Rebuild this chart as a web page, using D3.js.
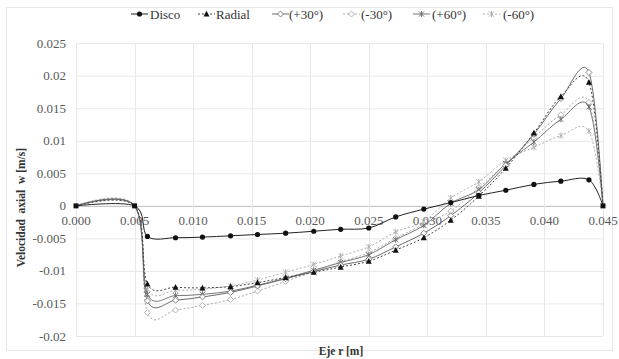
<!DOCTYPE html>
<html><head><meta charset="utf-8">
<script src="https://cdn.jsdelivr.net/npm/d3@7"></script>
<style>body{margin:0;background:#fff}svg{display:block}text{font-family:"Liberation Serif","DejaVu Serif",serif}</style>
</head><body>
<script>
const rValues = [0, 0.005, 0.0061, 0.0085, 0.0108, 0.0132, 0.0155, 0.0179, 0.0203, 0.0226, 0.0250, 0.0273, 0.0297, 0.0320, 0.0344, 0.0367, 0.0391, 0.0414, 0.0438, 0.045];
const disco  = [0, 0, -0.0047, -0.0049, -0.0048, -0.0046, -0.0044, -0.0042, -0.0039, -0.0036, -0.0034, -0.0017, -0.0005, 0.0005, 0.0016, 0.0024, 0.0033, 0.0038, 0.0040, 0];
const radial = [0, 0, -0.0120, -0.0125, -0.0126, -0.0124, -0.0118, -0.0110, -0.0102, -0.0094, -0.0085, -0.0068, -0.0049, -0.0022, 0.0015, 0.0058, 0.0112, 0.0168, 0.0190, 0];
const p30    = [0, 0, -0.0146, -0.0145, -0.0140, -0.0133, -0.0123, -0.0112, -0.0101, -0.0091, -0.0082, -0.0063, -0.0042, -0.0015, 0.0020, 0.0062, 0.0110, 0.0165, 0.0205, 0];
const m30    = [0, 0, -0.0164, -0.0160, -0.0153, -0.0144, -0.0131, -0.0116, -0.0101, -0.0086, -0.0072, -0.0050, -0.0028, -0.0008, 0.0028, 0.0065, 0.0105, 0.0140, 0.0159, 0];
const p60    = [0, 0, -0.0136, -0.0138, -0.0136, -0.0131, -0.0122, -0.0111, -0.0099, -0.0087, -0.0075, -0.0052, -0.0030, 0.0004, 0.0025, 0.0065, 0.0098, 0.0133, 0.0152, 0];
const m60    = [0, 0, -0.0128, -0.0130, -0.0128, -0.0123, -0.0114, -0.0102, -0.0090, -0.0077, -0.0063, -0.0040, -0.0024, 0.0012, 0.0037, 0.0070, 0.0090, 0.0108, 0.0115, 0];
const seriesNames = ["Disco", "Radial", "(+30°)", "(-30°)", "(+60°)", "(-60°)"];
const xTicks = [0, 0.005, 0.010, 0.015, 0.020, 0.025, 0.030, 0.035, 0.040, 0.045];
const yTicks = [0.025, 0.02, 0.015, 0.01, 0.005, 0, -0.005, -0.01, -0.015, -0.02];

const W = 619, H = 359;
const svg = d3.select("body").append("svg").attr("width", W).attr("height", H);
svg.append("rect").attr("x", 6.5).attr("y", 7.5).attr("width", 606).attr("height", 343)
  .attr("fill", "#fff").attr("stroke", "#e6e6e6");

const x = d3.scaleLinear().domain([0, 0.045]).range([76, 603]);
const y = d3.scaleLinear().domain([-0.02, 0.025]).range([336, 43.2]);

// grid
svg.append("g").selectAll("line").data(yTicks).join("line")
  .attr("x1", x(0)).attr("x2", x(0.045)).attr("y1", d => y(d) + 0.5).attr("y2", d => y(d) + 0.5)
  .attr("stroke", d => d === 0 ? "#bdbdbd" : "#e8e8e8").attr("stroke-width", 1);
svg.append("g").selectAll("line").data(xTicks).join("line")
  .attr("y1", y(0.025)).attr("y2", y(-0.02)).attr("x1", d => Math.round(x(d)) + 0.5).attr("x2", d => Math.round(x(d)) + 0.5)
  .attr("stroke", "#e8e8e8").attr("stroke-width", 1);

// tick labels
svg.append("g").selectAll("text").data(yTicks).join("text")
  .attr("x", 66).attr("y", d => y(d) + 4.5).attr("text-anchor", "end")
  .attr("font-size", 13).attr("fill", "#595959")
  .text(d => d === 0 ? "0" : String(d));
svg.append("g").selectAll("text").data(xTicks).join("text")
  .attr("x", d => x(d)).attr("y", y(0) + 19).attr("text-anchor", "middle")
  .attr("font-size", 13).attr("fill", "#595959")
  .text(d => d3.format(".3f")(d));

// axis titles
svg.append("text").attr("transform", `translate(25,${(y(0.025)+y(-0.02))/2 + 18}) rotate(-90)`)
  .attr("text-anchor", "middle").attr("font-size", 11.5).attr("font-weight", "bold")
  .attr("fill", "#333").attr("xml:space", "preserve").text("Velocidad  axial  w [m/s]");
svg.append("text").attr("x", 341).attr("y", 355).attr("text-anchor", "middle")
  .attr("font-size", 11.5).attr("font-weight", "bold").attr("fill", "#333")
  .text("Eje r [m]");

const styles = [
  {vals: disco,  stroke: "#222", dash: null,  marker: "circle",   fill: "#111", mstroke: "#111"},
  {vals: radial, stroke: "#444", dash: "2,2", marker: "triangle", fill: "#111", mstroke: "#111"},
  {vals: p30,    stroke: "#6a6a6a", dash: null,  marker: "diamond",  fill: "#fff", mstroke: "#777"},
  {vals: m30,    stroke: "#a8a8a8", dash: "2,2", marker: "diamond", fill: "#fff", mstroke: "#aaa"},
  {vals: p60,    stroke: "#777", dash: null,  marker: "star",     fill: "none", mstroke: "#666"},
  {vals: m60,    stroke: "#b0b0b0", dash: "2,2", marker: "star",  fill: "none", mstroke: "#aaa"}
];

const line = d3.line().x(d => x(d[0])).y(d => y(d[1])).curve(d3.curveCatmullRom.alpha(0));

function drawMarker(g, type, cx, cy, s) {
  if (type === "circle") {
    g.append("circle").attr("cx", cx).attr("cy", cy).attr("r", 2.6).attr("fill", s.fill);
  } else if (type === "triangle") {
    g.append("path").attr("d", `M${cx},${cy-3.2}L${cx+3},${cy+2.6}L${cx-3},${cy+2.6}Z`).attr("fill", s.fill);
  } else if (type === "diamond") {
    g.append("path").attr("d", `M${cx},${cy-3}L${cx+3},${cy}L${cx},${cy+3}L${cx-3},${cy}Z`)
      .attr("fill", s.fill).attr("stroke", s.mstroke).attr("stroke-width", 0.9);
  } else if (type === "star") {
    g.append("path").attr("d", `M${cx-2.6},${cy-2.6}L${cx+2.6},${cy+2.6}M${cx+2.6},${cy-2.6}L${cx-2.6},${cy+2.6}M${cx},${cy-3}L${cx},${cy+3}`)
      .attr("stroke", s.mstroke).attr("stroke-width", 0.9).attr("fill", "none");
  }
}

const order = [5, 3, 4, 2, 1, 0];
order.forEach(i => {
  const s = styles[i];
  const pts = rValues.map((r, k) => [r, s.vals[k]]);
  const g = svg.append("g");
  g.append("path").attr("d", line(pts)).attr("fill", "none").attr("stroke", s.stroke)
    .attr("stroke-width", 1).attr("stroke-dasharray", s.dash);
  pts.forEach((p, k) => {
    if (k === 0 || k === 1 || k === pts.length - 1) {
      if (i === 0) g.append("rect").attr("x", x(p[0]) - 2.5).attr("y", y(p[1]) - 2.5).attr("width", 5).attr("height", 5).attr("fill", "#111");
      return;
    }
    drawMarker(g, s.marker, x(p[0]), y(p[1]), s);
  });
});

// legend
const legendX = [[131, 150], [198, 216], [272, 289], [343, 361], [413, 432], [483, 503]];
const leg = svg.append("g");
styles.forEach((s, i) => {
  const [lx, tx] = legendX[i];
  const ly = 14;
  leg.append("line").attr("x1", lx).attr("x2", lx + 17).attr("y1", ly).attr("y2", ly)
    .attr("stroke", s.stroke).attr("stroke-width", 1).attr("stroke-dasharray", s.dash);
  drawMarker(leg, s.marker, lx + 8.5, ly, s);
  leg.append("text").attr("x", tx).attr("y", ly + 4.5).attr("font-size", 13)
    .attr("fill", "#333").text(seriesNames[i]);
});
</script>
</body></html>
